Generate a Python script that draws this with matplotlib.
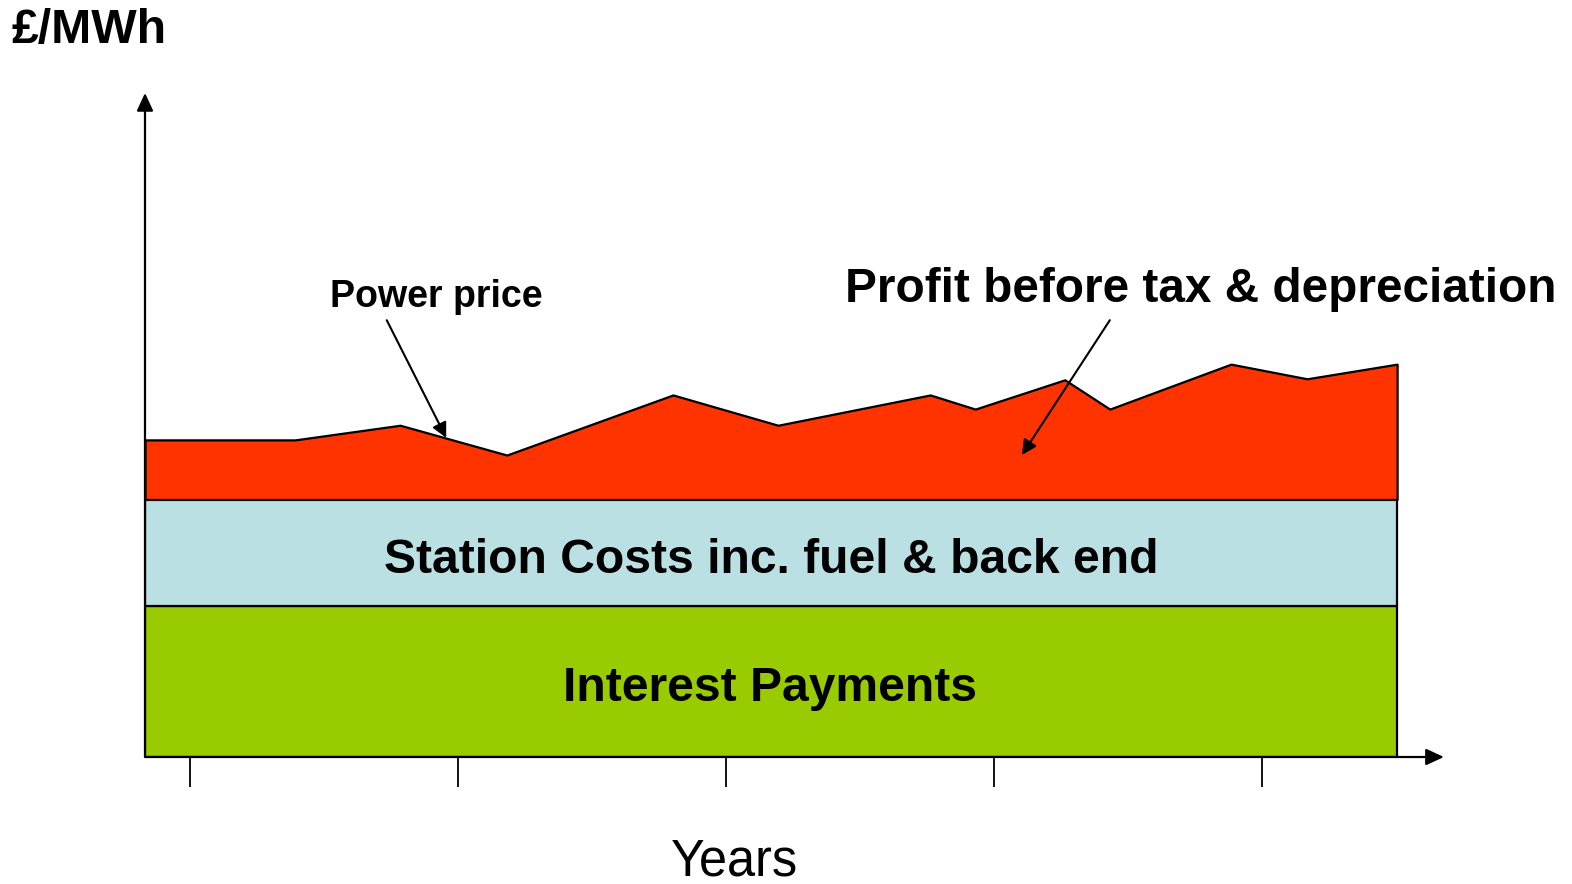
import matplotlib
matplotlib.use("Agg")
import matplotlib.pyplot as plt

# ---- data ----
years = [0, 2.80, 4.76, 6.75, 9.85, 11.81, 14.65, 15.49, 17.16, 18.00, 20.26, 21.68, 23.36]
power_price = [62.8, 62.8, 65.7, 59.8, 71.7, 65.7, 71.7, 68.9, 74.7, 68.9, 77.8, 74.9, 77.8]
interest_payments = 30
station_costs = 21
tick_years = [0.84, 5.84, 10.84, 15.84, 20.84]
x_max = 24.16
y_max = 131.1

RED = "#FF3300"
BLUE = "#BBE0E3"
GREEN = "#99CC00"
FONT = ["Liberation Sans", "DejaVu Sans"]

W, H = 1572, 884
fig = plt.figure(figsize=(W / 100, H / 100), dpi=100)
ax = fig.add_axes([145 / W, (H - 757) / H, (1440 - 145) / W, (757 - 95) / H])
ax.set_xlim(0, x_max)
ax.set_ylim(0, y_max)

x0, x1 = years[0], years[-1]
lvl1 = interest_payments
lvl2 = interest_payments + station_costs

ax.fill_between([x0, x1], [0, 0], [lvl1, lvl1], facecolor=GREEN, edgecolor="black", linewidth=1.6, zorder=2)
ax.fill_between([x0, x1], [lvl1, lvl1], [lvl2, lvl2], facecolor=BLUE, edgecolor="black", linewidth=1.6, zorder=2)
ax.fill_between(years, [lvl2] * len(years), power_price, facecolor=RED, edgecolor="black", linewidth=1.6, zorder=2)

for s in ax.spines.values():
    s.set_visible(False)
ax.set_yticks([])
ax.set_xticks(tick_years)
ax.set_xticklabels([])
ax.tick_params(axis="x", direction="out", length=21.6, width=1.3, color="black")

axis_arrow = dict(arrowstyle="-|>,head_length=1.08,head_width=0.5", color="black", lw=1.6, shrinkA=0, shrinkB=0)
ax.annotate("", xy=(1.003, 0), xytext=(0, 0), xycoords="axes fraction", textcoords="axes fraction",
            arrowprops=axis_arrow, annotation_clip=False, zorder=5)
ax.annotate("", xy=(0, 1.003), xytext=(0, 0), xycoords="axes fraction", textcoords="axes fraction",
            arrowprops=axis_arrow, annotation_clip=False, zorder=5)

# labels inside
ax.text(11.68, 39.0, "Station Costs inc. fuel & back end", ha="center", va="center",
        fontsize=34.6, fontweight="bold", family=FONT, zorder=4)
ax.text(11.66, 13.5, "Interest Payments", ha="center", va="center",
        fontsize=34.6, fontweight="bold", family=FONT, zorder=4)

# annotations
note_arrow = dict(arrowstyle="-|>,head_length=0.9,head_width=0.45", color="black", lw=1.5, shrinkA=0, shrinkB=0)
ax.annotate("", xy=(5.62, 63.2), xytext=(4.51, 86.5), arrowprops=note_arrow, zorder=5, annotation_clip=False)
ax.text(5.43, 91.0, "Power price", ha="center", va="center", fontsize=27, fontweight="bold", family=FONT)

ax.annotate("", xy=(16.36, 59.8), xytext=(18.00, 86.5), arrowprops=note_arrow, zorder=5, annotation_clip=False)
ax.text(19.70, 92.5, "Profit before tax & depreciation", ha="center", va="center",
        fontsize=34.4, fontweight="bold", family=FONT, clip_on=False)

fig.text(12 / W, 1 - 31 / H, "£/MWh", ha="left", va="center", fontsize=34.7, fontweight="bold", family=FONT)
fig.text(734 / W, 1 - 876 / H, "Years", ha="center", va="baseline", fontsize=36.4, family=FONT)

fig.savefig("out.png", dpi=100, facecolor="white")
